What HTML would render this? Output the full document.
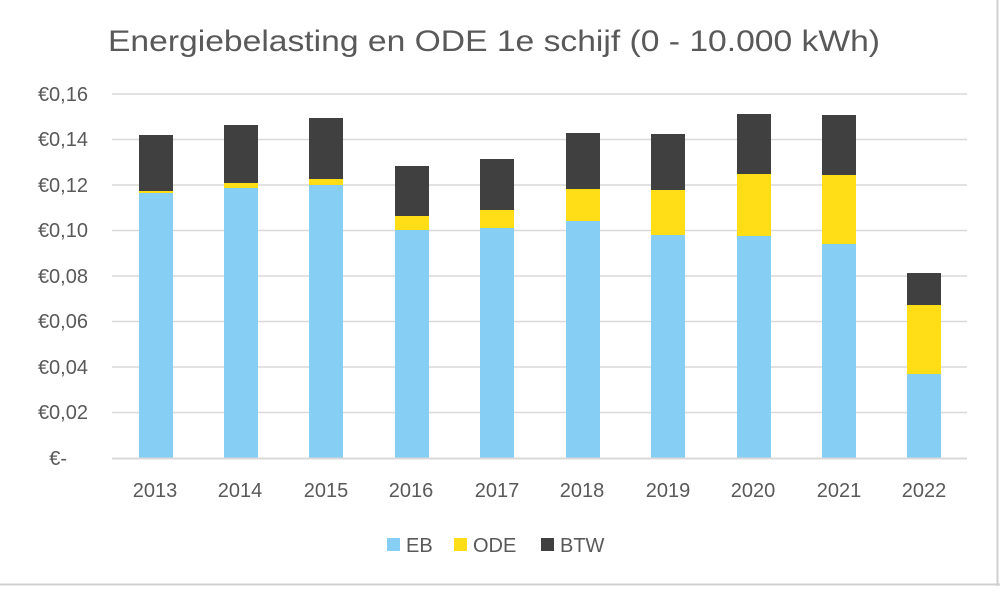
<!DOCTYPE html>
<html><head><meta charset="utf-8"><style>
body{margin:0;background:#fff}
svg text{font-family:"Liberation Sans",sans-serif;fill:#595959}
</style></head><body>
<svg width="1000" height="586" xmlns="http://www.w3.org/2000/svg">
<rect x="0" y="0" width="1000" height="586" fill="#fff"/>
<line x1="997.5" y1="0" x2="997.5" y2="586" stroke="#d0d0d0" stroke-width="2"/>
<line x1="0" y1="584.5" x2="1000" y2="584.5" stroke="#d0d0d0" stroke-width="2"/>
<text x="108" y="51" font-size="30" textLength="772" lengthAdjust="spacingAndGlyphs">Energiebelasting en ODE 1e schijf (0 - 10.000 kWh)</text>
<g stroke="#d9d9d9" stroke-width="1.5">
<line x1="112" x2="967" y1="94" y2="94"/><line x1="112" x2="967" y1="139.5" y2="139.5"/>
<line x1="112" x2="967" y1="185" y2="185"/><line x1="112" x2="967" y1="230.5" y2="230.5"/>
<line x1="112" x2="967" y1="276" y2="276"/><line x1="112" x2="967" y1="321.5" y2="321.5"/>
<line x1="112" x2="967" y1="367" y2="367"/><line x1="112" x2="967" y1="412.5" y2="412.5"/>
</g>
<g font-size="20" text-anchor="end">
<text x="88" y="101">€0,16</text><text x="88" y="146">€0,14</text><text x="88" y="192">€0,12</text>
<text x="88" y="237">€0,10</text><text x="88" y="283">€0,08</text><text x="88" y="328">€0,06</text>
<text x="88" y="374">€0,04</text><text x="88" y="419">€0,02</text><text x="67" y="465">€-</text>
</g>
<g id="bars">
<rect x="139" y="135" width="34" height="56" fill="#404040"/><rect x="139" y="191" width="34" height="2" fill="#ffde17"/><rect x="139" y="193" width="34" height="265" fill="#87cef5"/>
<rect x="224" y="125" width="34" height="58" fill="#404040"/><rect x="224" y="183" width="34" height="5" fill="#ffde17"/><rect x="224" y="188" width="34" height="270" fill="#87cef5"/>
<rect x="309" y="118" width="34" height="61" fill="#404040"/><rect x="309" y="179" width="34" height="6" fill="#ffde17"/><rect x="309" y="185" width="34" height="273" fill="#87cef5"/>
<rect x="395" y="166" width="34" height="50" fill="#404040"/><rect x="395" y="216" width="34" height="14" fill="#ffde17"/><rect x="395" y="230" width="34" height="228" fill="#87cef5"/>
<rect x="480" y="159" width="34" height="51" fill="#404040"/><rect x="480" y="210" width="34" height="18" fill="#ffde17"/><rect x="480" y="228" width="34" height="230" fill="#87cef5"/>
<rect x="566" y="133" width="34" height="56" fill="#404040"/><rect x="566" y="189" width="34" height="32" fill="#ffde17"/><rect x="566" y="221" width="34" height="237" fill="#87cef5"/>
<rect x="651" y="134" width="34" height="56" fill="#404040"/><rect x="651" y="190" width="34" height="45" fill="#ffde17"/><rect x="651" y="235" width="34" height="223" fill="#87cef5"/>
<rect x="737" y="114" width="34" height="60" fill="#404040"/><rect x="737" y="174" width="34" height="62" fill="#ffde17"/><rect x="737" y="236" width="34" height="222" fill="#87cef5"/>
<rect x="822" y="115" width="34" height="60" fill="#404040"/><rect x="822" y="175" width="34" height="69" fill="#ffde17"/><rect x="822" y="244" width="34" height="214" fill="#87cef5"/>
<rect x="907" y="273" width="34" height="32" fill="#404040"/><rect x="907" y="305" width="34" height="69" fill="#ffde17"/><rect x="907" y="374" width="34" height="84" fill="#87cef5"/>
</g>
<line x1="112" x2="967" y1="458.5" y2="458.5" stroke="#d9d9d9" stroke-width="2"/>
<g font-size="20" text-anchor="middle">
<text x="155" y="497">2013</text><text x="240" y="497">2014</text><text x="326" y="497">2015</text>
<text x="411" y="497">2016</text><text x="497" y="497">2017</text><text x="582" y="497">2018</text>
<text x="668" y="497">2019</text><text x="753" y="497">2020</text><text x="839" y="497">2021</text>
<text x="924" y="497">2022</text>
</g>
<rect x="387" y="538" width="13" height="13" fill="#87cef5"/><text x="406" y="552" font-size="20">EB</text>
<rect x="454" y="538" width="13" height="13" fill="#ffde17"/><text x="473" y="552" font-size="20">ODE</text>
<rect x="541" y="538" width="13" height="13" fill="#404040"/><text x="560" y="552" font-size="20">BTW</text>
</svg>
</body></html>
